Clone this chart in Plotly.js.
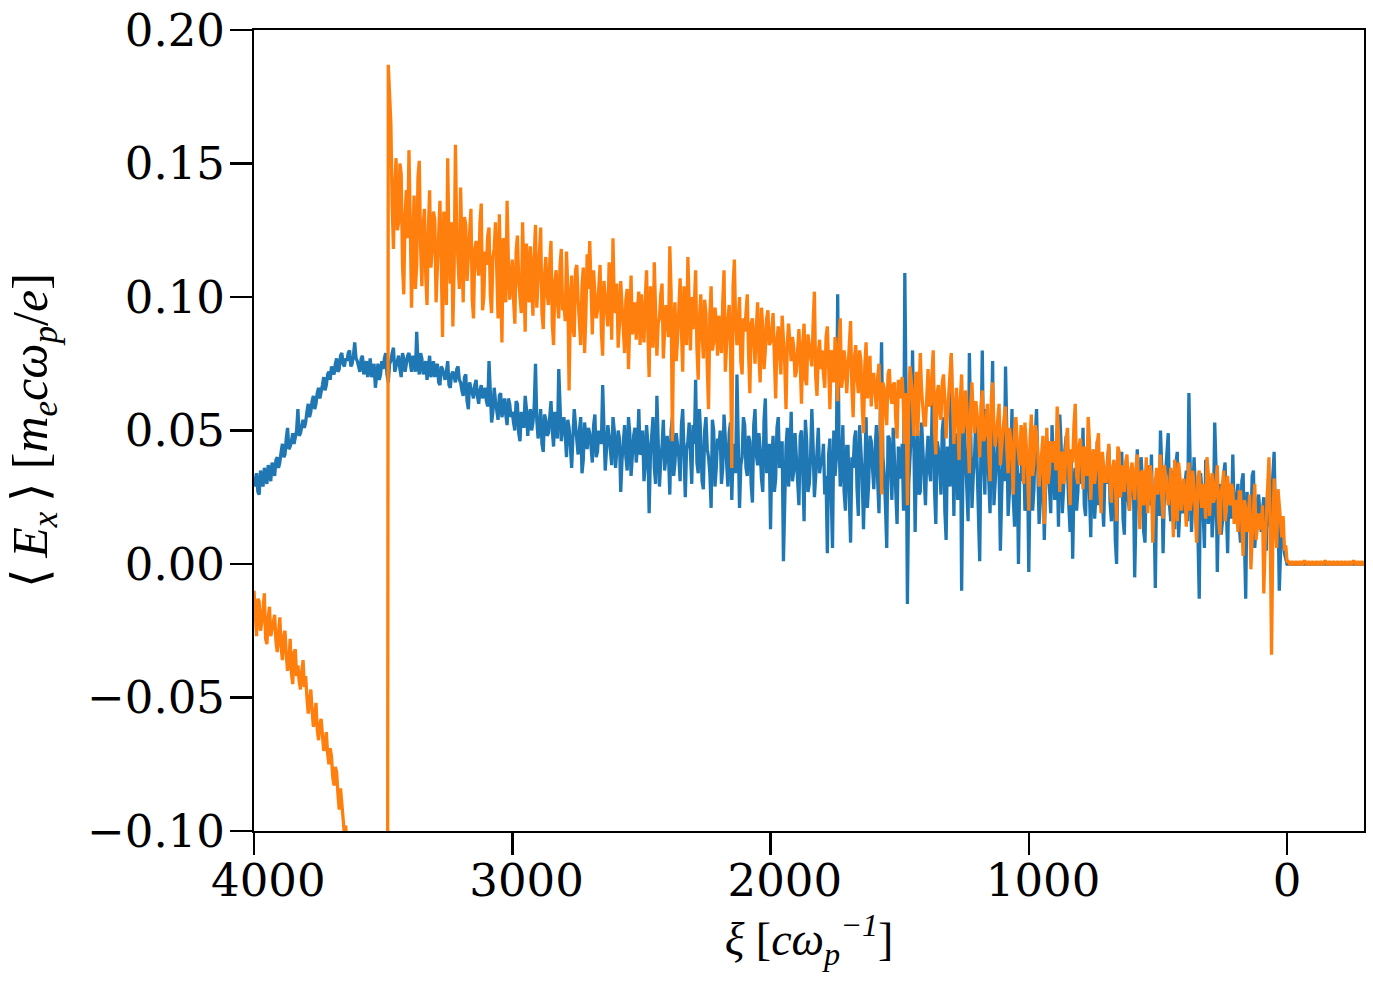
<!DOCTYPE html>
<html>
<head>
<meta charset="utf-8">
<script src="https://cdn.plot.ly/plotly-3.0.1.min.js"></script>
<style>html,body{margin:0;padding:0;background:#fff;}#chart{width:1373px;height:986px;}</style>
</head>
<body>
<div id="chart"></div>
<script>
// xi grid: main samples start at 4000, step -10; mid samples sit half a step later
var xiStart = 4000;
var xiStep = -10;

// Blue series <E_x>, main samples (4000, 3990, ..., -300)
var blueEx = [
0.029,0.034,0.026,0.032,0.036,0.030,0.035,0.038,0.033,0.040,
0.038,0.045,0.041,0.051,0.044,0.049,0.047,0.058,0.049,0.054,
0.053,0.060,0.057,0.063,0.060,0.066,0.064,0.070,0.067,0.072,
0.074,0.071,0.077,0.073,0.079,0.074,0.076,0.080,0.075,0.083,
0.076,0.072,0.078,0.074,0.070,0.077,0.073,0.066,0.075,0.071,
0.073,0.079,0.068,0.076,0.081,0.074,0.078,0.070,0.077,0.075,
0.079,0.072,0.076,0.087,0.071,0.077,0.074,0.069,0.078,0.072,
0.070,0.075,0.067,0.073,0.069,0.076,0.066,0.072,0.068,0.074,
0.068,0.063,0.071,0.058,0.066,0.062,0.069,0.060,0.067,0.064,
0.061,0.076,0.053,0.066,0.058,0.063,0.055,0.062,0.052,0.060,
0.057,0.050,0.060,0.046,0.055,0.063,0.048,0.058,0.053,0.075,
0.047,0.058,0.042,0.054,0.049,0.061,0.044,0.052,0.073,0.046,
0.055,0.040,0.051,0.036,0.058,0.045,0.050,0.034,0.053,0.043,
0.049,0.038,0.056,0.042,0.047,0.067,0.035,0.052,0.041,0.055,
0.036,0.050,0.027,0.046,0.040,0.055,0.033,0.048,0.038,0.058,
0.042,0.031,0.052,0.019,0.047,0.036,0.063,0.029,0.044,0.035,
0.048,0.026,0.055,0.038,0.044,0.031,0.058,0.025,0.046,0.037,
0.052,0.069,0.034,0.047,0.028,0.055,0.040,0.021,0.050,0.036,
0.043,0.030,0.056,0.038,0.049,0.024,0.045,0.071,0.021,0.040,
0.052,0.033,0.046,0.023,0.058,0.037,0.043,0.027,0.062,0.039,
0.013,0.048,0.032,0.055,0.038,0.001,0.044,0.029,0.057,0.035,
0.041,0.022,0.050,0.016,0.046,0.030,0.058,0.025,0.043,0.034,
0.038,0.026,0.004,0.047,0.006,0.033,0.101,0.029,0.052,0.020,
0.044,0.008,0.036,0.050,0.018,0.041,0.013,0.055,0.030,0.046,
0.028,0.052,0.019,0.083,0.034,0.006,0.047,0.024,0.039,0.015,
0.032,0.045,0.109,-0.015,0.038,0.080,0.012,0.050,0.027,0.041,
0.022,0.048,0.031,0.077,0.015,0.043,0.026,0.055,0.009,0.037,
0.078,0.018,0.045,0.030,-0.010,0.052,0.028,0.079,0.021,0.040,
0.035,0.001,0.080,0.026,0.044,0.019,0.076,0.030,0.048,0.005,
0.042,0.074,0.018,0.037,0.025,0.053,0.000,0.031,0.046,0.022,
-0.003,0.040,0.028,0.058,0.015,0.035,0.009,0.047,0.030,0.052,
0.024,0.038,0.056,0.019,0.043,0.031,0.012,0.002,0.036,0.027,
0.045,0.051,0.018,0.034,0.010,0.040,0.026,0.022,0.037,0.014,
0.030,0.044,0.016,0.038,0.000,0.028,0.042,0.011,0.033,0.020,
0.025,-0.005,0.043,0.018,0.031,0.008,0.037,0.022,0.014,-0.009,
0.029,0.050,0.004,0.034,0.049,0.016,0.026,0.038,0.010,0.031,
0.022,0.035,0.064,0.012,0.040,0.019,-0.013,0.028,0.006,0.033,
0.024,0.010,0.053,-0.003,0.030,0.016,0.038,0.004,0.027,0.041,
0.018,0.030,0.008,0.034,-0.013,0.022,0.012,0.035,0.015,0.026,
0.012,0.025,0.005,0.030,0.018,0.042,0.008,-0.010,0.015,0.004,
0.000,
0.000,0.000,0.000,0.000,0.000,0.000,0.000,0.000,0.000,0.000,
0.000,0.000,0.000,0.000,0.000,0.000,0.000,0.000,0.000,0.000,
0.000,0.000,0.000,0.000,0.000,0.000,0.000,0.000,0.000,0.000
];

// Blue series <E_x>, mid samples (3995, 3985, ..., -295)
var blueExMid = [
0.031,0.027,0.035,0.029,0.033,0.037,0.031,0.036,0.039,0.036,
0.042,0.040,0.047,0.043,0.046,0.045,0.050,0.048,0.052,0.051,
0.057,0.055,0.061,0.058,0.064,0.062,0.067,0.065,0.071,0.069,
0.072,0.075,0.072,0.078,0.075,0.077,0.079,0.074,0.078,0.077,
0.074,0.077,0.071,0.076,0.073,0.070,0.075,0.072,0.069,0.076,
0.077,0.071,0.075,0.079,0.072,0.077,0.073,0.079,0.072,0.078,
0.074,0.078,0.072,0.075,0.079,0.071,0.076,0.073,0.070,0.076,
0.073,0.068,0.074,0.071,0.072,0.067,0.071,0.070,0.073,0.069,
0.065,0.070,0.061,0.068,0.064,0.067,0.063,0.065,0.062,0.066,
0.059,0.065,0.057,0.061,0.054,0.064,0.058,0.056,0.062,0.055,
0.053,0.061,0.049,0.057,0.051,0.058,0.055,0.050,0.059,0.054,
0.052,0.045,0.056,0.048,0.055,0.050,0.057,0.047,0.055,0.051,
0.049,0.054,0.044,0.048,0.052,0.041,0.055,0.039,0.047,0.051,
0.044,0.052,0.040,0.050,0.045,0.053,0.043,0.048,0.037,0.050,
0.043,0.047,0.039,0.052,0.035,0.049,0.042,0.051,0.044,0.041,
0.050,0.037,0.045,0.041,0.055,0.030,0.050,0.039,0.054,0.040,
0.041,0.050,0.033,0.049,0.040,0.052,0.035,0.043,0.053,0.030,
0.045,0.038,0.058,0.031,0.050,0.043,0.034,0.054,0.029,0.047,
0.050,0.036,0.046,0.029,0.053,0.041,0.034,0.048,0.037,0.055,
0.036,0.048,0.030,0.052,0.041,0.049,0.032,0.054,0.034,0.045,
0.040,0.027,0.051,0.036,0.046,0.022,0.051,0.040,0.031,0.049,
0.030,0.048,0.035,0.054,0.027,0.040,0.044,0.033,0.051,0.038,
0.045,0.033,0.041,0.021,0.050,0.040,0.048,0.036,0.027,0.044,
0.025,0.040,0.047,0.028,0.052,0.033,0.038,0.021,0.048,0.036,
0.043,0.031,0.056,0.040,0.022,0.048,0.035,0.051,0.029,0.044,
0.039,0.020,0.060,0.030,0.049,0.035,0.042,0.026,0.053,0.033,
0.040,0.035,0.054,0.028,0.046,0.036,0.050,0.020,0.044,0.029,
0.036,0.049,0.024,0.060,0.034,0.041,0.016,0.047,0.033,0.055,
0.027,0.046,0.038,0.058,0.032,0.049,0.022,0.041,0.035,0.026,
0.031,0.049,0.027,0.058,0.014,0.040,0.034,0.045,0.020,0.038,
0.033,0.020,0.047,0.036,0.024,0.043,0.027,0.039,0.019,0.041,
0.034,0.014,0.045,0.029,0.048,0.022,0.039,0.030,0.020,0.043,
0.030,0.022,0.042,0.027,0.038,0.017,0.046,0.031,0.024,0.035,
0.039,0.023,0.032,0.009,0.041,0.025,0.017,0.037,0.024,0.035,
0.034,0.019,0.028,0.040,0.012,0.035,0.026,0.041,0.021,0.030,
0.018,0.036,0.027,0.041,0.022,0.035,0.013,0.042,0.024,0.019,
0.030,0.016,0.036,0.025,0.028,0.011,0.034,0.020,0.039,0.015,
0.032,0.019,0.036,0.024,0.011,0.034,0.022,0.030,0.017,0.020,
0.025,0.014,0.031,0.010,0.027,0.019,0.033,0.006,0.024,0.020,
0.020,0.010,0.028,0.014,0.033,0.017,0.022,0.005,0.010,0.002,
0.000,0.000,0.000,0.000,0.000,0.000,0.000,0.000,0.000,0.000,
0.000,0.000,0.000,0.000,0.000,0.000,0.000,0.000,0.000,0.000,
0.000,0.000,0.000,0.000,0.000,0.000,0.000,0.000,0.000,0.000
];

// Orange series <E_x>, main samples (4000, 3990, ..., -300)
var orangeEx = [
-0.010,-0.027,-0.014,-0.022,-0.011,-0.030,-0.016,-0.024,-0.019,-0.033,
-0.020,-0.036,-0.025,-0.040,-0.028,-0.045,-0.032,-0.038,-0.047,-0.036,
-0.042,-0.056,-0.047,-0.061,-0.052,-0.066,-0.058,-0.070,-0.063,-0.075,
-0.072,-0.083,-0.078,-0.092,-0.089,-0.101,-0.110,-0.125,-0.140,-0.160,
-0.180,-0.200,-0.220,-0.240,-0.260,-0.280,-0.300,-0.320,-0.340,-0.360,
-0.380,-0.400,0.187,0.165,0.118,0.152,0.128,0.146,0.101,0.140,
0.155,0.096,0.138,0.112,0.151,0.104,0.133,0.097,0.140,0.118,
0.129,0.110,0.136,0.085,0.122,0.152,0.105,0.089,0.157,0.116,
0.141,0.098,0.127,0.115,0.133,0.092,0.121,0.108,0.135,0.100,
0.112,0.126,0.094,0.118,0.104,0.131,0.083,0.120,0.136,0.099,
0.114,0.090,0.123,0.101,0.128,0.087,0.110,0.119,0.093,0.127,
0.105,0.126,0.088,0.115,0.097,0.121,0.082,0.110,0.092,0.118,
0.098,0.117,0.065,0.108,0.085,0.112,0.090,0.104,0.079,0.116,
0.121,0.086,0.103,0.095,0.112,0.078,0.100,0.089,0.107,0.122,
0.094,0.081,0.106,0.088,0.099,0.073,0.108,0.090,0.084,0.102,
0.101,0.083,0.110,0.070,0.096,0.113,0.078,0.092,0.105,0.086,
0.092,0.119,0.046,0.098,0.084,0.107,0.072,0.095,0.115,0.080,
0.088,0.110,0.069,0.101,0.077,0.094,0.058,0.104,0.083,0.091,
0.093,0.079,0.110,0.085,0.097,0.036,0.114,0.082,0.100,0.071,
0.087,0.101,0.064,0.092,0.075,0.098,0.068,0.089,0.080,0.095,
0.083,0.094,0.062,0.089,0.071,0.086,0.058,0.090,0.076,0.081,
0.072,0.088,0.060,0.090,0.067,0.081,0.074,0.102,0.063,0.084,
0.080,0.066,0.089,0.058,0.078,0.085,0.061,0.092,0.070,0.075,
0.073,0.091,0.055,0.082,0.064,0.076,0.049,0.083,0.068,0.059,
0.071,0.058,0.075,0.026,0.066,0.052,0.073,0.060,0.068,0.047,
0.062,0.070,0.045,0.022,0.074,0.055,0.066,0.048,0.079,0.058,
0.052,0.073,0.060,0.080,0.041,0.067,0.054,0.071,0.047,0.063,
0.079,0.045,0.066,0.039,0.071,0.052,0.060,0.034,0.068,0.049,
0.057,0.040,0.065,0.048,0.060,0.031,0.068,0.044,0.055,0.037,
0.050,0.059,0.034,0.047,0.026,0.055,0.041,0.052,0.030,0.045,
0.020,0.056,0.038,0.049,0.029,0.044,0.015,0.051,0.035,0.041,
0.046,0.059,0.027,0.042,0.033,0.051,0.022,0.038,0.060,0.030,
0.047,0.028,0.040,0.055,0.024,0.043,0.035,0.049,0.019,0.037,
0.031,0.045,0.023,0.039,0.016,0.042,0.033,0.027,0.041,0.020,
0.038,0.024,0.041,0.013,0.035,0.028,0.019,0.037,0.008,0.031,
0.026,0.041,0.017,0.033,0.022,0.036,0.010,0.029,0.038,0.020,
0.032,0.014,0.038,0.024,0.029,0.008,0.035,0.021,0.027,0.040,
0.018,0.034,0.025,0.037,0.011,0.030,0.016,0.033,0.022,0.028,
0.024,0.012,0.027,0.003,0.021,0.015,-0.002,0.023,0.009,0.019,
0.014,-0.011,0.018,0.040,-0.034,0.032,0.006,0.022,0.010,0.005,
0.001,
0.000,0.001,0.000,0.000,0.001,0.000,0.001,0.000,0.000,0.001,
0.000,0.000,0.001,0.000,0.001,0.000,0.000,0.001,0.000,0.000,
0.001,0.000,0.000,0.001,0.000,0.001,0.000,0.000,0.001,0.000
];

// Orange series <E_x>, mid samples (3995, 3985, ..., -295)
var orangeExMid = [
-0.020,-0.013,-0.025,-0.017,-0.028,-0.020,-0.027,-0.021,-0.029,-0.026,
-0.031,-0.027,-0.034,-0.037,-0.041,-0.033,-0.042,-0.044,-0.040,-0.046,
-0.050,-0.051,-0.055,-0.057,-0.062,-0.060,-0.064,-0.068,-0.071,-0.069,
-0.080,-0.076,-0.086,-0.084,-0.095,-0.098,-0.118,-0.132,-0.150,-0.170,
-0.190,-0.210,-0.230,-0.250,-0.270,-0.290,-0.310,-0.330,-0.350,-0.370,
-0.390,-0.410,0.178,0.134,0.141,0.125,0.150,0.112,0.131,0.122,
0.128,0.120,0.103,0.145,0.119,0.127,0.108,0.125,0.111,0.132,
0.098,0.123,0.114,0.132,0.097,0.119,0.128,0.111,0.124,0.103,
0.120,0.130,0.106,0.124,0.099,0.118,0.112,0.128,0.095,0.117,
0.123,0.101,0.115,0.128,0.092,0.110,0.122,0.098,0.113,0.106,
0.099,0.117,0.106,0.094,0.112,0.120,0.098,0.104,0.115,0.096,
0.119,0.094,0.108,0.101,0.113,0.090,0.106,0.098,0.112,0.095,
0.091,0.103,0.096,0.088,0.110,0.099,0.082,0.111,0.093,0.103,
0.097,0.110,0.092,0.104,0.087,0.106,0.095,0.113,0.084,0.098,
0.105,0.090,0.097,0.079,0.103,0.092,0.086,0.098,0.096,0.082,
0.091,0.099,0.087,0.104,0.081,0.095,0.090,0.101,0.077,0.097,
0.085,0.102,0.090,0.076,0.099,0.088,0.104,0.082,0.093,0.100,
0.097,0.081,0.092,0.086,0.099,0.074,0.093,0.080,0.096,0.078,
0.086,0.098,0.072,0.092,0.081,0.104,0.090,0.095,0.076,0.092,
0.094,0.079,0.090,0.084,0.088,0.078,0.096,0.073,0.092,0.082,
0.088,0.077,0.084,0.079,0.093,0.075,0.083,0.080,0.085,0.070,
0.080,0.075,0.083,0.069,0.086,0.076,0.090,0.070,0.079,0.073,
0.071,0.085,0.074,0.080,0.068,0.077,0.083,0.066,0.080,0.064,
0.079,0.066,0.077,0.070,0.080,0.059,0.074,0.062,0.078,0.071,
0.064,0.070,0.061,0.068,0.057,0.071,0.063,0.067,0.054,0.069,
0.067,0.058,0.064,0.061,0.069,0.048,0.072,0.060,0.065,0.052,
0.065,0.059,0.071,0.050,0.064,0.057,0.068,0.061,0.056,0.070,
0.060,0.058,0.053,0.062,0.049,0.065,0.046,0.058,0.054,0.061,
0.051,0.059,0.046,0.054,0.042,0.062,0.052,0.049,0.060,0.045,
0.055,0.043,0.051,0.039,0.050,0.046,0.037,0.048,0.053,0.036,
0.047,0.033,0.052,0.042,0.036,0.048,0.039,0.030,0.046,0.038,
0.035,0.049,0.041,0.030,0.047,0.036,0.043,0.052,0.033,0.044,
0.038,0.044,0.033,0.046,0.036,0.030,0.045,0.028,0.042,0.031,
0.040,0.029,0.036,0.031,0.044,0.025,0.037,0.038,0.030,0.035,
0.029,0.036,0.030,0.034,0.022,0.040,0.027,0.033,0.024,0.036,
0.034,0.025,0.037,0.028,0.031,0.024,0.039,0.016,0.033,0.027,
0.023,0.031,0.020,0.035,0.018,0.032,0.026,0.030,0.017,0.034,
0.029,0.023,0.031,0.017,0.027,0.035,0.020,0.026,0.030,0.015,
0.020,0.027,0.015,0.024,0.012,0.026,0.010,0.030,0.016,0.013,
0.022,0.007,0.028,0.012,0.010,0.015,0.028,0.014,0.018,0.007,
0.001,0.000,0.000,0.001,0.000,0.000,0.001,0.000,0.001,0.000,
0.000,0.001,0.000,0.000,0.001,0.000,0.001,0.000,0.000,0.001,
0.000,0.000,0.001,0.000,0.000,0.001,0.000,0.001,0.000,0.000
];

var xTickVals = [4000, 3000, 2000, 1000, 0];
var xTickText = ['\u00a0\u00a04000', '\u00a0\u00a03000', '\u00a0\u00a02000', '\u00a0\u00a01000', '0'];
var yTickVals = [-0.10, -0.05, 0.00, 0.05, 0.10, 0.15, 0.20];

// merge main and mid samples in xi order
function series(main, mid) {
  var xs = [], ys = [];
  for (var i = 0; i < main.length; i++) {
    xs.push(xiStart + xiStep * i); ys.push(main[i]);
    if (i < mid.length) { xs.push(xiStart + xiStep * i + xiStep / 2); ys.push(mid[i]); }
  }
  return {x: xs, y: ys};
}

var b = series(blueEx, blueExMid);
var o = series(orangeEx, orangeExMid);

var traces = [
  {x: b.x, y: b.y, type: 'scatter', mode: 'lines',
   line: {color: '#1f77b4', width: 3.3}, hoverinfo: 'skip'},
  {x: o.x, y: o.y, type: 'scatter', mode: 'lines',
   line: {color: '#ff7f0e', width: 3.3}, hoverinfo: 'skip'}
];

var tickFont = {family: 'DejaVu Serif', size: 45, color: '#000'};
var yTitleFont = {family: 'Liberation Serif', size: 50, color: '#000'};
var xTitleFont = {family: 'Liberation Serif', size: 46, color: '#000'};

var layout = {
  width: 1373, height: 986,
  margin: {l: 254, r: 9, t: 30, b: 155, pad: 0},
  paper_bgcolor: '#fff', plot_bgcolor: '#fff',
  showlegend: false,
  xaxis: {
    range: [4000, -298], autorange: false,
    tickvals: xTickVals, ticktext: xTickText,
    ticks: 'outside', ticklen: 22, tickwidth: 2.5, tickcolor: '#000',
    ticklabelstandoff: -13,
    showline: true, linecolor: '#000', linewidth: 2, mirror: true,
    showgrid: false, zeroline: false,
    tickfont: tickFont,
    title: {text: '<i>ξ</i> [<i>cω<sub>p</sub><sup>−1</sup></i>]', font: xTitleFont, standoff: 4}
  },
  yaxis: {
    range: [-0.10, 0.20], autorange: false,
    tickvals: yTickVals, tickformat: '.2f',
    ticks: 'outside', ticklen: 22, tickwidth: 2.5, tickcolor: '#000',
    ticklabelstandoff: -4,
    showline: true, linecolor: '#000', linewidth: 2, mirror: true,
    showgrid: false, zeroline: false,
    tickfont: tickFont,
    title: {text: '⟨\u2009<i>E<sub>x</sub></i>\u2009⟩ [<i>m<sub>e</sub>cω<sub>p</sub></i>/<i>e</i>]', font: yTitleFont, standoff: 24}
  }
};

Plotly.newPlot('chart', traces, layout, {staticPlot: true, displayModeBar: false});
</script>
</body>
</html>
